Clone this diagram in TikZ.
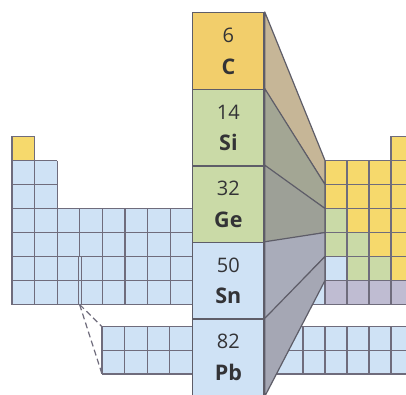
\documentclass[tikz,border=0pt]{standalone}
\usepackage{fontspec}
\setmainfont{Open Sans}
\usetikzlibrary{calc}
\definecolor{cyel}{HTML}{F6D96C}
\definecolor{cyelC}{HTML}{F2CE6B}
\definecolor{cgreen}{HTML}{CADAA7}
\definecolor{cblue}{HTML}{CFE2F5}
\definecolor{clav}{HTML}{BFBCD2}
\definecolor{cgrid}{HTML}{6F6C7C}
\definecolor{cedge}{HTML}{5E5D68}
\definecolor{ftan}{HTML}{C6B697}
\definecolor{fsi}{HTML}{A3A694}
\definecolor{fge}{HTML}{9DA097}
\definecolor{fsn}{HTML}{A9ACBA}
\definecolor{fpb}{HTML}{A5A7B4}
\definecolor{ctext}{HTML}{333336}
\tikzset{
  gridline/.style={draw=cgrid, line width=1.1pt},
  elem/.style={draw=cedge, line width=1.5pt, minimum width=71.3pt, minimum height=76.6pt, inner sep=0pt},
  facebox/.style={draw=cedge, line width=1.2pt, line join=round},
  numtext/.style={text=ctext, font=\fontsize{20}{22}\selectfont, anchor=base, inner sep=0pt},
  symtext/.style={text=ctext, font=\fontsize{21.5}{23}\selectfont\bfseries, anchor=base, inner sep=0pt},
  dashline/.style={draw=cgrid, line width=1.2pt, dash pattern=on 6pt off 3.5pt}
}
\begin{document}
\begin{tikzpicture}[x=1pt,y=-1pt]
\useasboundingbox (0,0) rectangle (406,394);
\clip (0,0) rectangle (406,394);
\fill[white] (0,0) rectangle (406,394);

% ---- left table ----
\fill[cyel] (12,136.5) rectangle (34.6,160.5);
\draw[gridline] (12,136.5) rectangle (34.6,160.5);
\fill[cblue] (12,160.5) rectangle (57.2,208.5);
\foreach \y in {160.5,184.5,208.5} \draw[gridline] (12,\y) -- (57.2,\y);
\foreach \x in {12,34.6,57.2} \draw[gridline] (\x,160.5) -- (\x,208.5);
\fill[cblue] (12,208.5) rectangle (325,304.5);
\foreach \y in {208.5,232.5,256.5,280.5,304.5} \draw[gridline] (12,\y) -- (200,\y);
\foreach \x in {12,34.6,57.2,102.4,125,147.6,170.2} \draw[gridline] (\x,208.5) -- (\x,304.5);
\draw[gridline] (79.8,208.5) -- (79.8,256.5);
\draw[cgrid, line width=0.8pt] (78.4,256.5) -- (78.4,304.5);
\draw[cgrid, line width=0.8pt] (81.0,256.5) -- (81.0,304.5);
\draw[gridline] (300,304.5) -- (325,304.5);

% ---- bottom block ----
\fill[cblue] (102,326.7) rectangle (412,374);
\foreach \y in {326.7,350.4,374} \draw[gridline] (102,\y) -- (412,\y);
\foreach \x in {102,124.6,147.2,169.8,192.4,303,325,347,369,391} \draw[gridline] (\x,326.7) -- (\x,374);
\coordinate (lanth) at (79.6,304.5);
\coordinate (bbtop) at (102,326.7);
\coordinate (bbbot) at (102,374);
\draw[dashline] (lanth) -- (bbtop);
\draw[dashline] (lanth) -- (bbbot);

% ---- right table ----
\foreach \row/\cols in {
  0/{3/cyel},
  1/{0/cyel,1/cyel,2/cyel,3/cyel,4/cyel},
  2/{0/cyel,1/cyel,2/cyel,3/cyel,4/cyel},
  3/{0/cgreen,1/cyel,2/cyel,3/cyel,4/cyel},
  4/{0/cgreen,1/cgreen,2/cyel,3/cyel,4/cyel},
  5/{0/cblue,1/cgreen,2/cgreen,3/cyel,4/cyel},
  6/{0/clav,1/clav,2/clav,3/clav,4/clav}} {
  \foreach \c/\col in \cols {
    \fill[\col] ({325+22*\c},{136.5+24*\row}) rectangle ({347+22*\c},{160.5+24*\row});
    \draw[gridline] ({325+22*\c},{136.5+24*\row}) rectangle ({347+22*\c},{160.5+24*\row});
  }
}

% ---- center column ----
\node[elem, fill=cyelC] (c6) at (228.35,51.0) {};
\node[elem, fill=cgreen] (c14) at (228.35,127.6) {};
\node[elem, fill=cgreen] (c32) at (228.35,204.2) {};
\node[elem, fill=cblue] (c50) at (228.35,280.8) {};
\node[elem, fill=cblue] (c82) at (228.35,357.4) {};

\foreach \n/\z/\s in {c6/6/C, c14/14/Si, c32/32/Ge, c50/50/Sn, c82/82/Pb} {
  \node[numtext] (\n num) at ($(\n.center)+(0,-8.5)$) {\z};
  \node[symtext] (\n sym) at ($(\n.center)+(0,23)$) {\s};
}

% ---- perspective faces ----
\coordinate (r0) at (325,160.5);
\coordinate (r1) at (325,184.5);
\coordinate (r2) at (325,208.5);
\coordinate (r3) at (325,232.5);
\coordinate (r4) at (325,256.5);
\coordinate (r5) at (325,280.5);
\path[facebox, fill=ftan] (c6.north east) -- (r0) -- (r1) -- (c6.south east) -- cycle;
\path[facebox, fill=fsi] (c14.north east) -- (r1) -- (r2) -- (c14.south east) -- cycle;
\path[facebox, fill=fge] (c32.north east) -- (r2) -- (r3) -- (c32.south east) -- cycle;
\path[facebox, fill=fsn] (c50.north east) -- (r3) -- (r4) -- (c50.south east) -- cycle;
\path[facebox, fill=fpb] (c82.north east) -- (r4) -- (r5) -- (c82.south east) -- cycle;
\end{tikzpicture}
\end{document}
